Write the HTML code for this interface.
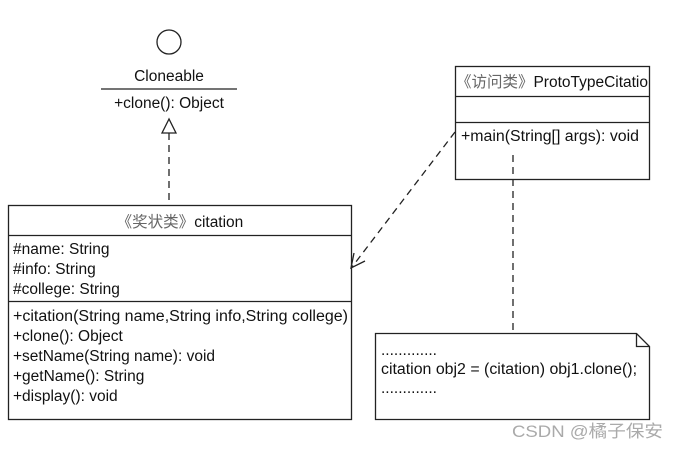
<!DOCTYPE html>
<html><head><meta charset="utf-8"><style>
body{margin:0;background:#fff;}
svg text{font-family:"Liberation Sans","Noto Sans CJK SC",sans-serif;font-size:15.5px;fill:#111;}
</style></head><body>
<svg width="678" height="448" viewBox="0 0 678 448" xmlns="http://www.w3.org/2000/svg">
<g stroke="#222" stroke-width="1.3" fill="none">
<circle cx="169" cy="42" r="12"/>
<line x1="101" y1="89" x2="237" y2="89"/>
<polygon points="169,119 162,133 176,133" fill="#fff"/>
<line x1="169" y1="133" x2="169" y2="205" stroke-dasharray="7,5"/>
<rect x="8.5" y="205.5" width="343" height="214"/>
<line x1="8" y1="235.5" x2="351" y2="235.5"/>
<line x1="8" y1="301.5" x2="351" y2="301.5"/>
<rect x="455.5" y="66.5" width="194" height="113"/>
<line x1="455" y1="96.5" x2="649" y2="96.5"/>
<line x1="455" y1="122.5" x2="649" y2="122.5"/>
<line x1="513" y1="155" x2="513" y2="333" stroke-dasharray="7,5"/>
<line x1="455" y1="132" x2="352" y2="267" stroke-dasharray="7,5"/>
<polyline points="354,253 351,268 365,261"/>
<path d="M375.5,333.5 H636.5 L649.5,346.5 V419.5 H375.5 Z"/>
<polyline points="636.5,333.5 636.5,346.5 649.5,346.5"/>
</g>
<text x="169" y="81" text-anchor="middle">Cloneable</text>
<text x="169" y="108" text-anchor="middle">+clone(): Object</text>
<text x="180" y="227" text-anchor="middle"><tspan fill="#666">《奖状类》</tspan>citation</text>
<text x="13" y="254">#name: String</text>
<text x="13" y="274">#info: String</text>
<text x="13" y="294">#college: String</text>
<text x="13" y="321" textLength="335" lengthAdjust="spacingAndGlyphs">+citation(String name,String info,String college)</text>
<text x="13" y="341">+clone(): Object</text>
<text x="13" y="361">+setName(String name): void</text>
<text x="13" y="381">+getName(): String</text>
<text x="13" y="401">+display(): void</text>
<text x="456" y="87" textLength="192" lengthAdjust="spacingAndGlyphs"><tspan fill="#666">《访问类》</tspan>ProtoTypeCitatio</text>
<text x="461" y="141" textLength="178" lengthAdjust="spacingAndGlyphs">+main(String[] args): void</text>
<text x="381" y="355" font-size="11">.............</text>
<text x="381" y="374" textLength="256" lengthAdjust="spacingAndGlyphs">citation obj2 = (citation) obj1.clone();</text>
<text x="381" y="393" font-size="11">.............</text>
<text x="512" y="437" style="fill:#aaa;font-size:17px" textLength="151" lengthAdjust="spacingAndGlyphs">CSDN @橘子保安</text>
</svg>
</body></html>
